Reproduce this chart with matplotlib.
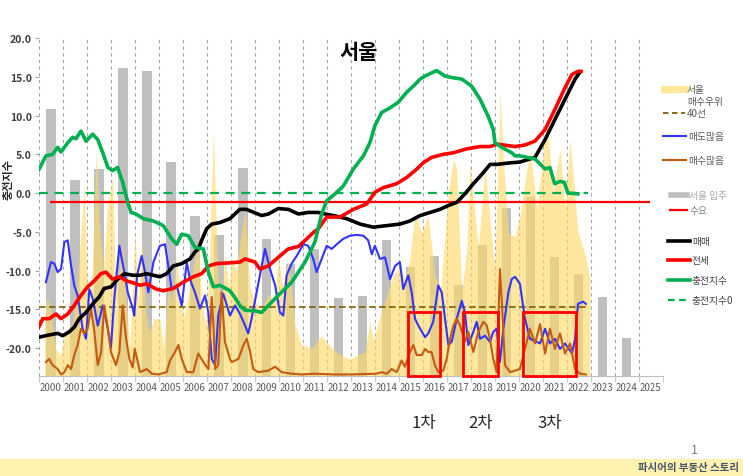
import matplotlib
matplotlib.use("Agg")
import matplotlib.pyplot as plt
from matplotlib.lines import Line2D
from matplotlib.patches import Rectangle
from matplotlib.transforms import blended_transform_factory

plt.rcParams['font.family'] = ['Noto Sans CJK KR', 'DejaVu Sans']

# ---- data ----
years = list(range(2000, 2026))

supply_years = list(range(2000, 2025))
supply = [10.9, 1.7, 3.1, 16.1, 15.7, 4.0, -2.9, -5.4, 3.2, -5.9, -9.1, -7.2, -13.6,
          -13.3, -6.0, -9.5, -8.1, -11.8, -6.7, -1.9, -0.5, -8.2, -10.5, -13.4, -18.7]

seoul_t = [2000.25, 2000.35, 2000.5, 2000.7, 2000.9, 2001.1, 2001.4, 2001.6, 2001.9, 2002.0,
           2002.12, 2002.25, 2002.39, 2002.55, 2002.7, 2002.85, 2003.08, 2003.2, 2003.35, 2003.5,
           2003.65, 2003.8, 2004.01, 2004.15, 2004.3, 2004.45, 2004.6, 2004.8, 2005.05, 2005.2,
           2005.4, 2005.55, 2005.75, 2005.9, 2006.05, 2006.3, 2006.65, 2006.8, 2006.95, 2007.1,
           2007.28, 2007.45, 2007.6, 2007.76, 2007.92, 2008.04, 2008.25, 2008.4, 2008.6, 2008.8,
           2009.0, 2009.3, 2009.55, 2009.8, 2009.98, 2010.15, 2010.4, 2010.68, 2010.96, 2011.38,
           2011.79, 2012.1, 2012.4, 2012.7, 2013.0, 2013.3, 2013.6, 2013.8, 2013.95, 2014.22,
           2014.5, 2014.78, 2015.05, 2015.26, 2015.47, 2015.68, 2015.96, 2016.23, 2016.51, 2016.75,
           2017.07, 2017.28, 2017.42, 2017.63, 2017.83, 2017.97, 2018.15, 2018.32, 2018.6, 2018.8,
           2019.01, 2019.22, 2019.36, 2019.57, 2019.85, 2020.05, 2020.47, 2020.76, 2021.18, 2021.43,
           2021.72, 2021.93, 2022.14, 2022.47, 2022.76, 2022.97]
seoul_v = [-16.0, -13.4, -15.0, -20.0, -21.0, -18.0, -17.0, -12.0, 1.4, -10.0,
           -15.0, -8.0, 5.7, -5.0, -10.0, -2.0, 2.2, -12.0, -10.0, -6.6,
           -14.0, -20.0, -5.0, -14.0, -6.0, -15.0, -18.0, -16.2, -16.2, -20.0,
           -12.0, -14.0, -8.1, -14.0, -16.0, -12.0, -5.9, -14.0, -17.0, -10.0,
           8.2, -10.0, -15.0, -7.6, -12.0, -8.5, -10.0, -6.0, -2.1, -12.0,
           -14.0, -15.0, -13.0, -14.0, -8.1, -12.0, -8.5, -17.0, -19.6, -20.0,
           -18.4, -19.6, -20.5, -21.1, -21.4, -20.9, -20.5, -16.6, -19.0, -15.8,
           -13.2, -10.6, -9.4, -11.0, -8.5, -2.5, -5.1, -2.9, -10.6, -12.5,
           0.1, 4.4, 3.1, -12.8, -7.3, 3.9, -2.0, -7.0, 3.5, -3.5,
           -9.8, 13.0, 4.4, -5.2, -5.6, -3.0, 5.7, -2.0, 9.5, 0.0,
           5.7, -2.0, 7.0, -5.0, -7.8, -11.0]

green_t = [2000.0, 2000.3, 2000.58, 2000.79, 2000.93, 2001.21, 2001.42, 2001.55, 2001.76, 2001.97,
           2002.25, 2002.46, 2002.67, 2002.88, 2003.08, 2003.29, 2003.5, 2003.71, 2003.85, 2004.05,
           2004.36, 2004.78, 2005.19, 2005.54, 2005.75, 2005.96, 2006.23, 2006.51, 2006.86, 2007.07,
           2007.28, 2007.55, 2007.97, 2008.2, 2008.4, 2008.6, 2009.01, 2009.29, 2009.57, 2009.98,
           2010.54, 2011.1, 2011.51, 2011.79, 2012.0, 2012.35, 2012.69, 2013.11, 2013.53, 2013.8,
           2014.01, 2014.29, 2014.64, 2014.98, 2015.33, 2015.68, 2015.89, 2016.1, 2016.58, 2016.93,
           2017.21, 2017.63, 2018.04, 2018.39, 2018.73, 2018.94, 2019.01, 2019.29, 2019.71, 2019.85,
           2020.05, 2020.68, 2021.1, 2021.3, 2021.5, 2021.72, 2021.9, 2022.05, 2022.47]
green_v = [3.0, 4.8, 5.0, 5.9, 5.3, 6.5, 7.2, 7.0, 8.0, 6.7,
           7.6, 6.9, 5.2, 3.3, 2.9, 3.3, 1.4, -1.2, -2.5, -2.7,
           -3.3, -3.6, -4.2, -5.9, -6.6, -5.3, -5.5, -7.0, -7.2, -10.2,
           -12.1, -11.9, -12.6, -13.6, -14.6, -15.1, -15.2, -15.4, -14.5, -13.2,
           -11.5, -8.9, -6.3, -2.7, -1.0, -0.1, 0.9, 3.1, 4.8, 6.5,
           8.7, 10.4, 11.0, 11.7, 13.0, 14.0, 14.7, 15.1, 15.8, 15.1,
           14.9, 14.7, 13.8, 12.1, 9.9, 8.2, 6.5, 5.9, 5.2, 4.8,
           4.8, 4.4, 3.1, 3.3, 1.2, 1.5, 1.4, 0.0, -0.1]

black_t = [2000.0, 2000.44, 2000.79, 2001.0, 2001.27, 2001.48, 2001.69, 2001.97, 2002.25, 2002.52,
           2002.73, 2003.01, 2003.29, 2003.57, 2003.92, 2004.22, 2004.5, 2005.05, 2005.33, 2005.61,
           2005.96, 2006.3, 2006.51, 2006.65, 2006.79, 2007.0, 2007.21, 2007.55, 2007.97, 2008.38,
           2008.65, 2009.29, 2009.57, 2009.98, 2010.4, 2010.82, 2011.23, 2011.65, 2011.93, 2012.28,
           2012.83, 2013.39, 2013.94, 2014.5, 2015.05, 2015.47, 2015.89, 2016.31, 2016.72, 2017.07,
           2017.42, 2017.76, 2018.11, 2018.46, 2018.81, 2019.09, 2019.65, 2020.05, 2020.68, 2020.88,
           2021.1, 2021.51, 2021.93, 2022.35, 2022.55]
black_v = [-18.6, -18.3, -18.1, -18.4, -17.9, -17.3, -16.2, -15.4, -14.3, -13.4,
           -12.3, -12.1, -11.1, -10.4, -10.6, -10.6, -10.4, -10.8, -10.4, -9.4,
           -9.1, -8.5, -7.6, -7.2, -6.1, -4.6, -4.0, -3.8, -3.3, -2.1,
           -2.1, -2.9, -2.7, -2.0, -2.1, -2.7, -2.5, -2.5, -2.7, -2.9,
           -3.3, -4.0, -4.4, -4.2, -4.0, -3.6, -2.9, -2.5, -2.1, -1.6,
           -1.2, -0.1, 1.2, 2.4, 3.7, 3.7, 3.9, 4.0, 4.6, 5.7,
           6.9, 9.5, 12.1, 14.7, 15.6]

jeonse_t = [2000.0, 2000.17, 2000.44, 2000.72, 2000.93, 2001.21, 2001.48, 2001.76, 2002.04, 2002.32,
            2002.59, 2002.8, 2003.08, 2003.36, 2003.64, 2004.05, 2004.22, 2004.5, 2004.91, 2005.19,
            2005.61, 2006.02, 2006.44, 2006.79, 2007.07, 2007.41, 2007.97, 2008.38, 2008.6, 2009.01,
            2009.22, 2009.57, 2009.98, 2010.4, 2010.82, 2011.17, 2011.44, 2011.65, 2011.79, 2012.0,
            2012.55, 2013.11, 2013.67, 2014.01, 2014.36, 2014.91, 2015.33, 2015.72, 2016.02, 2016.37,
            2016.86, 2017.28, 2017.83, 2018.39, 2018.81, 2019.09, 2019.37, 2019.85, 2020.26, 2020.68,
            2021.1, 2021.51, 2021.93, 2022.22, 2022.47, 2022.6]
jeonse_v = [-17.3, -16.2, -16.2, -15.6, -16.2, -15.6, -14.5, -13.2, -12.1, -11.3,
            -10.4, -10.2, -11.1, -10.8, -11.3, -11.7, -11.9, -11.7, -12.4, -12.6,
            -12.3, -11.5, -10.8, -10.4, -9.4, -9.1, -9.0, -8.9, -8.5, -8.9,
            -9.8, -9.4, -8.3, -7.2, -6.9, -5.9, -5.1, -4.6, -4.0, -3.1,
            -3.1, -2.1, -1.4, 0.1, 0.7, 1.2, 2.0, 3.0, 3.9, 4.6,
            5.0, 5.2, 5.7, 6.0, 6.0, 6.3, 6.2, 6.0, 6.2, 6.7,
            8.2, 10.8, 13.6, 15.3, 15.7, 15.7]

sell_t = [2000.3, 2000.51, 2000.65, 2000.79, 2000.93, 2001.07, 2001.21, 2001.35, 2001.48, 2001.62,
          2001.83, 2001.97, 2002.11, 2002.25, 2002.46, 2002.67, 2002.88, 2003.01, 2003.15, 2003.36,
          2003.57, 2003.71, 2003.92, 2003.98, 2004.1, 2004.29, 2004.43, 2004.57, 2004.78, 2005.05,
          2005.26, 2005.4, 2005.54, 2005.75, 2005.96, 2006.17, 2006.3, 2006.51, 2006.72, 2006.93,
          2007.07, 2007.21, 2007.35, 2007.48, 2007.69, 2007.97, 2008.18, 2008.39, 2008.6, 2008.73,
          2008.87, 2009.08, 2009.29, 2009.43, 2009.64, 2009.85, 2010.05, 2010.19, 2010.33, 2010.54,
          2010.75, 2011.03, 2011.23, 2011.44, 2011.58, 2011.79, 2012.0, 2012.21, 2012.42, 2012.69,
          2012.97, 2013.25, 2013.53, 2013.73, 2013.88, 2014.01, 2014.22, 2014.43, 2014.64, 2014.85,
          2015.05, 2015.19, 2015.4, 2015.54, 2015.68, 2015.82, 2016.1, 2016.23, 2016.44, 2016.65,
          2016.79, 2016.93, 2017.07, 2017.21, 2017.42, 2017.63, 2017.76, 2017.9, 2018.11, 2018.25,
          2018.39, 2018.6, 2018.8, 2018.94, 2019.08, 2019.22, 2019.36, 2019.57, 2019.71, 2019.85,
          2020.05, 2020.26, 2020.47, 2020.89, 2021.1, 2021.3, 2021.51, 2021.72, 2021.93, 2022.22,
          2022.35, 2022.47, 2022.68, 2022.8]
sell_v = [-11.5, -8.9, -9.1, -10.2, -9.8, -6.3, -6.1, -9.4, -11.9, -13.2,
          -17.5, -18.8, -12.4, -13.6, -17.1, -14.5, -17.5, -19.9, -13.6, -6.8,
          -10.2, -12.8, -14.9, -15.8, -10.6, -8.1, -10.2, -12.8, -8.9, -6.8,
          -6.6, -9.4, -12.4, -11.9, -14.5, -8.9, -11.1, -12.8, -14.9, -13.2,
          -15.4, -21.4, -22.2, -15.8, -13.0, -15.8, -14.5, -15.6, -17.1, -18.1,
          -16.2, -12.8, -9.4, -7.2, -9.8, -11.9, -15.4, -15.8, -10.6, -9.1,
          -8.1, -6.6, -6.8, -8.5, -10.2, -8.5, -6.8, -7.2, -6.6, -5.9,
          -5.5, -5.4, -5.5, -6.1, -7.9, -6.8, -8.5, -8.3, -11.1, -9.4,
          -8.9, -12.4, -10.6, -12.8, -16.2, -17.1, -18.6, -18.1, -16.6, -11.9,
          -12.8, -16.2, -19.6, -19.2, -16.2, -13.9, -15.4, -19.6, -17.9, -16.6,
          -18.8, -18.4, -19.2, -17.9, -17.5, -21.8, -17.5, -12.8, -11.1, -10.8,
          -11.7, -16.2, -18.8, -19.4, -17.5, -19.4, -18.8, -20.1, -19.4, -20.7,
          -18.8, -14.3, -14.0, -14.3]

buy_t = [2000.3, 2000.44, 2000.58, 2000.79, 2000.93, 2001.07, 2001.21, 2001.35, 2001.48, 2001.62,
         2001.76, 2001.9, 2002.04, 2002.18, 2002.32, 2002.46, 2002.6, 2002.73, 2002.88, 2003.01,
         2003.22, 2003.36, 2003.5, 2003.64, 2003.78, 2003.92, 2004.0, 2004.1, 2004.22, 2004.5,
         2004.71, 2004.98, 2005.33, 2005.47, 2005.68, 2005.82, 2005.96, 2006.17, 2006.44, 2006.65,
         2006.86, 2007.07, 2007.21, 2007.28, 2007.35, 2007.48, 2007.62, 2007.76, 2007.97, 2008.04,
         2008.32, 2008.53, 2008.67, 2008.81, 2008.94, 2009.15, 2009.57, 2009.85, 2010.12, 2010.54,
         2010.96, 2011.5, 2012.3, 2013.0, 2014.08, 2014.29, 2014.5, 2014.71, 2014.92, 2015.12,
         2015.26, 2015.47, 2015.61, 2015.75, 2015.96, 2016.1, 2016.23, 2016.37, 2016.51, 2016.65,
         2016.86, 2017.0, 2017.14, 2017.28, 2017.42, 2017.56, 2017.76, 2017.9, 2018.11, 2018.32,
         2018.53, 2018.67, 2018.8, 2018.94, 2019.08, 2019.22, 2019.32, 2019.43, 2019.64, 2019.85,
         2020.05, 2020.26, 2020.47, 2020.68, 2020.89, 2021.1, 2021.3, 2021.51, 2021.72, 2021.93,
         2022.14, 2022.35, 2022.56, 2022.8]
buy_v = [-21.8, -21.4, -22.2, -22.7, -23.4, -23.1, -22.2, -22.7, -20.9, -19.6,
         -17.5, -18.1, -17.5, -14.9, -17.9, -22.2, -20.5, -14.5, -17.5, -20.5,
         -22.2, -20.5, -14.5, -18.8, -21.4, -22.5, -20.1, -21.4, -23.1, -22.7,
         -23.3, -23.4, -23.1, -21.6, -20.5, -19.6, -21.4, -23.1, -23.1, -20.7,
         -21.8, -22.7, -13.4, -17.1, -22.7, -22.2, -12.8, -19.2, -21.4, -21.8,
         -21.4, -19.6, -18.8, -20.5, -22.7, -23.1, -22.9, -22.4, -23.1, -23.3,
         -23.4, -23.3, -23.4, -23.4, -23.3, -23.1, -23.3, -22.7, -23.1, -21.6,
         -22.4, -20.5, -19.6, -20.9, -20.9, -20.1, -20.5, -20.5, -22.2, -23.1,
         -22.9, -21.4, -18.8, -17.1, -16.2, -17.1, -19.2, -17.9, -20.5, -17.9,
         -16.6, -17.1, -18.8, -21.4, -23.1, -9.8, -15.4, -22.2, -23.1, -22.9,
         -22.7, -20.1, -17.5, -19.4, -16.9, -20.7, -17.5, -20.1, -18.1, -20.7,
         -19.4, -22.7, -23.3, -23.4]

line40 = -14.7
demand = -1.1
periods = [(2015.40, 2016.72), (2017.69, 2019.15), (2020.17, 2022.39)]
period_labels = ['1차', '2차', '3차']
period_top = -15.4

# ---- figure ----
YMIN, YMAX = -23.6, 20.0
fig = plt.figure(figsize=(7.43, 4.77), dpi=100)
ax = fig.add_axes([0.0521, 0.2096, 0.8398, 0.7086])
ax.set_xlim(2000, 2026)
ax.set_ylim(YMIN, YMAX)

for x in range(2000, 2027):
    ax.axvline(x, color='#A6A6A6', ls=(0, (3, 3)), lw=0.8, zorder=0)

ax.bar([y + 0.5 for y in supply_years], [v - YMIN for v in supply], bottom=YMIN,
       width=0.4, color='#BFBFBF', zorder=1)
ax.fill_between(seoul_t, YMIN, seoul_v, color='#FFD966', alpha=0.62, lw=0, zorder=2)

ax.hlines(line40, 2000, 2022.9, colors='#7F6000', linestyles=(0, (4, 2)), lw=1.2, zorder=3)
ax.hlines(0, 2000, 2022.9, colors='#00B050', linestyles=(0, (4, 3)), lw=1.6, zorder=3)
ax.hlines(demand, 2000.47, 2025.47, colors='#FF0000', lw=1.6, zorder=3)

ax.plot(sell_t, sell_v, color='#3333FF', lw=1.5, zorder=4)
ax.plot(buy_t, buy_v, color='#C55A11', lw=1.5, zorder=4)
ax.plot(black_t, black_v, color='black', lw=2.6, zorder=5)
ax.plot(jeonse_t, jeonse_v, color='#FF0000', lw=2.6, zorder=5)
ax.plot(green_t, green_v, color='#00B050', lw=2.6, zorder=5)

trans = blended_transform_factory(ax.transData, ax.transAxes)
for (a, b), lab in zip(periods, period_labels):
    ax.add_patch(Rectangle((a, YMIN), b - a, period_top - YMIN, fill=False,
                           ec='#FF0000', lw=2, zorder=7, clip_on=False))
    ax.text((a + b) / 2, -0.137, lab, transform=trans, ha='center', va='center',
            fontsize=12, color='#262626')

ax.text(0.512, 0.961, '서울', transform=ax.transAxes, ha='center', va='center',
        fontsize=15, fontweight='bold')

# axes styling
for s in ['left', 'right', 'top']:
    ax.spines[s].set_visible(False)
ax.spines['bottom'].set_color('#BFBFBF')
ax.set_xticks([y + 0.5 for y in years])
ax.set_xticklabels([str(y) for y in years], fontsize=7, color='#595959')
ax.set_xticks(range(2000, 2027), minor=True)
ax.tick_params(axis='x', which='major', length=0, pad=4)
ax.tick_params(axis='x', which='minor', length=4, color='#BFBFBF')
ax.set_yticks(range(-20, 21, 5))
ax.set_yticklabels([f'{v:.1f}' for v in range(-20, 21, 5)], fontsize=7.5,
                   color='#404040', fontweight='bold')
ax.tick_params(axis='y', length=3, color='#A6A6A6', pad=2)

fig.text(0.011, 0.623, '충전지수', rotation=90, ha='center', va='center',
         fontsize=8, fontweight='bold', color='#262626')

# legend drawn by hand on the right
W, H = 743, 477
legend = [
    (90, 664, 685, '#FFE699', 5, '-', '서울', '#595959'),
    (114, 663, 685, '#7F6000', 1.3, (0, (3, 2)), '40선', '#595959'),
    (137, 663, 686, '#3333FF', 1.5, '-', '매도많음', '#595959'),
    (161, 663, 686, '#C55A11', 1.5, '-', '매수많음', '#595959'),
    (196, 671, 687, '#BFBFBF', 4, '-', '서울 입주', '#A6A6A6'),
    (211, 670, 687, '#FF0000', 1.6, '-', '수요', '#808080'),
    (242, 668, 690, 'black', 2.6, '-', '매매', '#404040'),
    (261, 668, 690, '#FF0000', 2.6, '-', '전세', '#404040'),
    (281, 668, 690, '#00B050', 2.6, '-', '충전지수', '#404040'),
    (301, 668, 690, '#00B050', 1.6, (0, (3, 2)), '충전지수0', '#404040'),
]
for y, x0, x1, col, lw, ls, lab, tcol in legend:
    fig.add_artist(Line2D([x0 / W, x1 / W], [1 - y / H, 1 - y / H], color=col,
                          lw=lw, ls=ls))
    fig.text((x1 + 2) / W, 1 - y / H, lab, ha='left', va='center', fontsize=7,
             color=tcol)
fig.text(687 / W, 1 - 102 / H, '매수우위', ha='left', va='center', fontsize=7,
         color='#595959')

# footer
fig.add_artist(Rectangle((0, 0), 1, 17 / H, transform=fig.transFigure,
                         color='#FFF1B0', lw=0))
fig.text(0.995, 8.5 / H, '파시어의 부동산 스토리', ha='right', va='center',
         fontsize=7.5, fontweight='bold', color='#44546A')
fig.text(694 / W, 1 - 451 / H, '1', ha='center', va='center', fontsize=9,
         color='#7F7F7F')

fig.savefig('out.png', dpi=100)
